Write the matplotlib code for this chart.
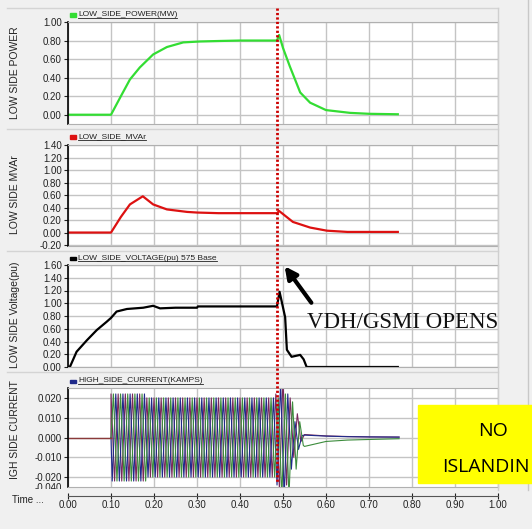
import matplotlib
matplotlib.use('Agg')
import matplotlib.pyplot as plt
import numpy as np
from matplotlib.lines import Line2D
from matplotlib.patches import Rectangle
from matplotlib.transforms import Bbox

plt.rcParams['font.family'] = ['Liberation Sans', 'DejaVu Sans']

W, H = 532, 529

# ---- data ----
pw_t = [0, 0.1, 0.123, 0.144, 0.167, 0.198, 0.23, 0.268, 0.307, 0.35, 0.40, 0.486,
        0.491, 0.50, 0.516, 0.54, 0.563, 0.60, 0.656, 0.70, 0.767]
pw_v = [0, 0, 0.2, 0.38, 0.51, 0.65, 0.73, 0.78, 0.79, 0.795, 0.80, 0.80,
        0.86, 0.72, 0.52, 0.24, 0.13, 0.05, 0.02, 0.01, 0.005]

mv_t = [0, 0.1, 0.123, 0.144, 0.174, 0.198, 0.23, 0.277, 0.30, 0.35, 0.486,
        0.491, 0.523, 0.563, 0.602, 0.65, 0.767]
mv_v = [0, 0, 0.25, 0.45, 0.58, 0.45, 0.37, 0.33, 0.32, 0.31, 0.31,
        0.345, 0.17, 0.08, 0.03, 0.01, 0.01]

vt_t = [0, 0.005, 0.02, 0.044, 0.067, 0.09, 0.10, 0.113, 0.137, 0.175, 0.198, 0.214,
        0.25, 0.30, 0.302, 0.486, 0.492, 0.505, 0.509, 0.52, 0.54, 0.548, 0.555, 0.767]
vt_v = [0, 0.01, 0.24, 0.42, 0.58, 0.71, 0.77, 0.87, 0.91, 0.93, 0.96, 0.92,
        0.93, 0.93, 0.95, 0.95, 1.18, 0.78, 0.27, 0.16, 0.19, 0.12, 0.0, 0.0]

# high side current: half-cycle peaks per phase (60 Hz), starting at 0.1 s
cur_start = 0.1
cur_half = 1 / 120
cur_offsets = [0.0, 1 / 360, 2 / 360]
ia_peaks = [0.022, -0.022] * 5 + [0.020, -0.020] * 18 + \
    [0.022, -0.026, 0.030, -0.024, 0.020, -0.010, 0.012, -0.002]
ib_peaks = [-0.022, 0.022] * 5 + [-0.020, 0.020] * 18 + \
    [-0.024, 0.028, -0.030, 0.022, -0.016, 0.008, -0.006, 0.001]
ic_peaks = [0.022, -0.022] * 5 + [0.020, -0.020] * 18 + \
    [0.020, -0.030, 0.022, -0.030, 0.018, -0.016, 0.008, -0.004]
# slow tails after the breaker opens
tail_t = [0.55, 0.60, 0.65, 0.70, 0.77]
ia_tail = [0.0015, 0.0008, 0.0005, 0.0003, 0.0002]
ib_tail = [0.0012, 0.0007, 0.0004, 0.0003, 0.0002]
ic_tail = [-0.0045, -0.0020, -0.0013, -0.0010, -0.0006]
cur_colors = ['#7a2a5c', '#1f2a8a', '#3c8c3c']

x_ticks = [0.0, 0.1, 0.2, 0.3, 0.4, 0.5, 0.6, 0.7, 0.8, 0.9, 1.0]

fig = plt.figure(figsize=(W / 100, H / 100), dpi=100, facecolor='#f0f0f0')


def px_axes(x0, y0, x1, y1):
    return fig.add_axes([x0 / W, 1 - y1 / H, (x1 - x0) / W, (y1 - y0) / H])


def style(ax, ylim, yticks, fmt):
    ax.set_xlim(0, 1)
    ax.set_ylim(*ylim)
    ax.set_xticks(x_ticks)
    ax.set_yticks(yticks)
    ax.set_yticklabels([fmt.format(v) for v in yticks])
    ax.grid(True, color='#c4c4c4', lw=1)
    ax.set_axisbelow(True)
    ax.tick_params(axis='x', length=0, labelbottom=False)
    ax.tick_params(axis='y', length=3, width=0.8, labelsize=7, pad=1.5, colors='#222222')
    for s in ['top', 'right', 'bottom']:
        ax.spines[s].set_color('#b0b0b0')
    ax.spines['left'].set_color('black')
    ax.spines['left'].set_linewidth(1.2)


# panel separators
for y in [8, 129, 251, 372]:
    fig.add_artist(Line2D([7 / W, 498 / W], [1 - y / H] * 2, color='#d4d4d4', lw=1,
                          zorder=0))
fig.add_artist(Line2D([498 / W] * 2, [1 - 8 / H, 1 - 490 / H], color='#cfcfcf', lw=1))
fig.add_artist(Line2D([528 / W] * 2, [1 - 0 / H, 1 - 490 / H], color='#c8c8c8', lw=1))

ax1 = px_axes(68, 22, 498, 124)
ax1.plot(pw_t, pw_v, color='#33dd33', lw=1.6)
style(ax1, (-0.1, 1.0), [0, 0.2, 0.4, 0.6, 0.8, 1.0], '{:.2f}')

ax2 = px_axes(68, 145, 498, 246)
ax2.plot(mv_t, mv_v, color='#dd1111', lw=1.6)
style(ax2, (-0.215, 1.4), [-0.2, 0, 0.2, 0.4, 0.6, 0.8, 1.0, 1.2, 1.4], '{:.2f}')

ax3 = px_axes(68, 265, 498, 367)
ax3.plot(vt_t, vt_v, color='black', lw=1.6)
style(ax3, (0, 1.6), [0, 0.2, 0.4, 0.6, 0.8, 1.0, 1.2, 1.4, 1.6], '{:.2f}')

ax4 = px_axes(68, 388, 498, 487)
for off, peaks, tail, col in zip(cur_offsets, [ia_peaks, ib_peaks, ic_peaks],
                                 [ia_tail, ib_tail, ic_tail], cur_colors):
    t = cur_start + off + np.arange(len(peaks)) * cur_half
    ax4.plot(np.concatenate([[cur_start], t, tail_t]),
             np.concatenate([[0.0], peaks, tail]), color=col, lw=0.8)
ax4.plot([0.0, cur_start], [0.0, 0.0], color='#8b3a3a', lw=1.0)
style(ax4, (-0.025, 0.025), [-0.02, -0.01, 0, 0.01, 0.02], '{:.3f}')
# half-hidden extra tick label at the bottom edge
t040 = fig.text(62 / W, 1 - 488 / H, '-0.040', fontsize=7, ha='right', va='center',
                color='#222222')
t040.set_clip_box(Bbox([[0, H - 489], [68, H - 483]]))
t040.set_clip_on(True)

# time axis
axt = px_axes(68, 495, 498, 496)
axt.set_facecolor('none')
for s in ['top', 'right', 'left']:
    axt.spines[s].set_visible(False)
axt.spines['bottom'].set_color('#555555')
axt.set_xlim(0, 1)
axt.set_xticks(x_ticks)
axt.set_xticklabels(['{:.2f}'.format(v) for v in x_ticks])
axt.set_yticks([])
axt.tick_params(axis='x', direction='inout', length=4, width=0.8, labelsize=7,
                pad=1, colors='#222222')
fig.text(12 / W, 1 - 500 / H, 'Time ...', fontsize=7, va='center', color='#222222')

# y labels
for yc, lab in [(73, 'LOW SIDE POWER'), (195, 'LOW SIDE MVAr'),
                (315, 'LOW SIDE Voltage(pu)'), (430, 'IGH SIDE CURRENT')]:
    fig.text(15 / W, 1 - yc / H, lab, rotation=90, fontsize=7.5, ha='center',
             va='center', color='#222222')

# legend headers (underlined)
heads = [(15, '#33dd33', 'LOW_SIDE_POWER(MW)'),
         (137, '#dd1111', 'LOW_SIDE_MVAr'),
         (258, 'black', 'LOW_SIDE_VOLTAGE(pu) 575 Base'),
         (381, '#1f2a8a', 'HIGH_SIDE_CURRENT(KAMPS)')]
head_txt = []
for y, col, lab in heads:
    fig.add_artist(Rectangle((70 / W, 1 - (y + 1.5) / H), 6 / W, 3 / H,
                             transform=fig.transFigure, color=col))
    head_txt.append(fig.text(78 / W, 1 - y / H, lab, fontsize=6.0, va='center',
                             color='#222222'))

# breaker opening marker
fig.add_artist(Line2D([277 / W] * 2, [1 - 8 / H, 1 - 482 / H], color='#cc0000',
                      lw=2, linestyle=(0, (0.8, 0.8)), zorder=10))
ax3.annotate('', xy=(283, H - 264), xytext=(313, H - 305), xycoords='figure pixels',
             textcoords='figure pixels', annotation_clip=False,
             arrowprops=dict(arrowstyle='-|>', lw=3, color='black', mutation_scale=18))
fig.text(307 / W, 1 - 322 / H, 'VDH/GSMI OPENS', family='Liberation Serif',
         fontsize=16.5, va='center', ha='left', color='#111111')

fig.add_artist(Rectangle((418 / W, 1 - 483 / H), 130 / W, 78 / H,
                         transform=fig.transFigure, color='#ffff00', zorder=11))
fig.text(493 / W, 1 - 431 / H, 'NO', family='Open Sans', fontsize=14, ha='center',
         va='center', zorder=12)
fig.text(442 / W, 1 - 467 / H, 'ISLANDIN', family='Open Sans', fontsize=14,
         ha='left', va='center', zorder=12)

fig.canvas.draw()
r = fig.canvas.get_renderer()
for t in head_txt:
    bb = t.get_window_extent(r)
    fig.add_artist(Line2D([bb.x0 / W, bb.x1 / W], [(bb.y0 + 0.5) / H] * 2,
                          color='#222222', lw=0.6))

fig.savefig('out.png', dpi=100, facecolor=fig.get_facecolor())
